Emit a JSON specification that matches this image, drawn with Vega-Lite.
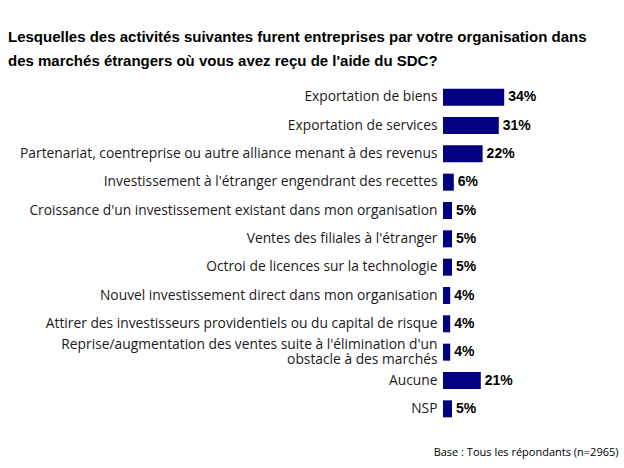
{
  "$schema": "https://vega.github.io/schema/vega-lite/v6.json",
  "autosize": "none",
  "width": 180,
  "height": 340,
  "padding": {"left": 443, "top": 83, "right": 1, "bottom": 45},
  "background": "white",
  "title": {
    "text": ["Lesquelles des activités suivantes furent entreprises par votre organisation dans", "des marchés étrangers où vous avez reçu de l'aide du SDC?"],
    "anchor": "start",
    "frame": "group",
    "dx": -435,
    "offset": 14,
    "font": "Liberation Sans",
    "fontSize": 15,
    "fontWeight": "bold",
    "lineHeight": 24,
    "color": "black"
  },
  "data": {
    "values": [
      {"activite": "Exportation de biens", "pct": 34},
      {"activite": "Exportation de services", "pct": 31},
      {"activite": "Partenariat, coentreprise ou autre alliance menant à des revenus", "pct": 22},
      {"activite": "Investissement à l'étranger engendrant des recettes", "pct": 6},
      {"activite": "Croissance d'un investissement existant dans mon organisation", "pct": 5},
      {"activite": "Ventes des filiales à l'étranger", "pct": 5},
      {"activite": "Octroi de licences sur la technologie", "pct": 5},
      {"activite": "Nouvel investissement direct dans mon organisation", "pct": 4},
      {"activite": "Attirer des investisseurs providentiels ou du capital de risque", "pct": 4},
      {"activite": "Reprise/augmentation des ventes suite à l'élimination d'un|obstacle à des marchés", "pct": 4},
      {"activite": "Aucune", "pct": 21},
      {"activite": "NSP", "pct": 5}
    ]
  },
  "encoding": {
    "y": {
      "field": "activite",
      "type": "nominal",
      "sort": null,
      "scale": {"paddingInner": 0.4, "paddingOuter": 0.2},
      "axis": {
        "title": null,
        "domain": false,
        "ticks": false,
        "labelPadding": 6,
        "labelLimit": 0,
        "labelFont": "Open Sans",
        "labelFontSize": 13.8,
        "labelColor": "#1a1a1a",
        "labelExpr": "split(datum.label, '|')",
        "labelLineHeight": 15,
        "labelOffset": {"condition": {"test": "length(split(datum.value, '|')) > 1", "value": -7.5}, "value": 0}
      }
    },
    "x": {
      "field": "pct",
      "type": "quantitative",
      "scale": {"domain": [0, 100]},
      "axis": {
        "domain": false,
        "ticks": false,
        "labels": false,
        "grid": false,
        "title": "Base : Tous les répondants (n=2965)",
        "titleFont": "Open Sans",
        "titleFontSize": 11,
        "titleFontWeight": "normal",
        "titleColor": "black",
        "titleAnchor": "end",
        "titleAlign": "right",
        "titleX": 175,
        "titleY": 29,
        "titleBaseline": "middle"
      }
    }
  },
  "layer": [
    {"mark": {"type": "bar", "color": "#000080"}},
    {
      "mark": {"type": "text", "align": "left", "dx": 4, "font": "Liberation Sans", "fontSize": 14, "fontWeight": "bold", "color": "black", "text": {"expr": "datum.pct + '%'"}}
    }
  ],
  "config": {"view": {"stroke": null}}
}
